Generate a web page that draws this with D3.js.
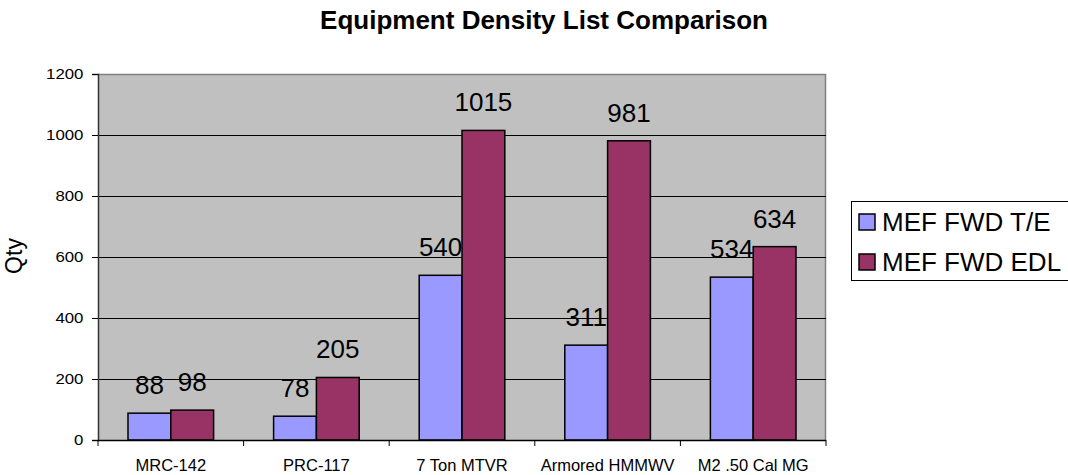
<!DOCTYPE html>
<html><head><meta charset="utf-8">
<script src="https://cdn.jsdelivr.net/npm/d3@7"></script>
<style>body{margin:0;background:#fff}text{font-family:Arial,"Liberation Sans",sans-serif}</style>
</head><body><svg id="c" width="1068" height="475"></svg>
<script>
const categories = ["MRC-142","PRC-117","7 Ton MTVR","Armored HMMWV","M2 .50 Cal MG"];
const seriesNames = ["MEF FWD T/E","MEF FWD EDL"];
const teValues = [88,78,540,311,534];
const edlValues = [98,205,1015,981,634];
const yTicks = [0,200,400,600,800,1000,1200];
const colors = ["#9999FF","#993366"];

const svg = d3.select("#c");
const L=98, R=826, T=74, B=440;
const x = d3.scaleBand().domain(categories).range([L,R]).padding(0);
const bw = x.bandwidth();
const xs = d3.scaleBand().domain(seriesNames).range([bw*0.206, bw*0.794]).padding(0);
const y = d3.scaleLinear().domain([0,1200]).range([B,T]);

svg.append("rect").attr("x",L).attr("y",T).attr("width",R-L).attr("height",B-T).attr("fill","#C0C0C0");
svg.append("path").attr("d",`M${L},${T+0.5}H${R-0.5}V${B}`).attr("fill","none").attr("stroke","#808080").attr("stroke-width",1.5);

// gridlines
svg.append("g").selectAll("line").data(yTicks.filter(v=>v>0 && v<1200)).join("line")
  .attr("x1",L).attr("x2",R).attr("y1",d=>Math.round(y(d))+0.5).attr("y2",d=>Math.round(y(d))+0.5)
  .attr("stroke","#000").attr("stroke-width",1);

// y axis
const ya = svg.append("g").attr("transform",`translate(${L},0)`)
  .call(d3.axisLeft(y).tickValues(yTicks).tickSize(6).tickPadding(7).tickFormat(d3.format("d")));
ya.select(".domain").attr("stroke","#333").attr("stroke-width",1.5);
ya.selectAll("line").attr("stroke","#000");
ya.selectAll("text").attr("font-size",15).attr("fill","#000").attr("transform","scale(1.12,1)")
  .attr("font-family","Arial,'Liberation Sans',sans-serif");

// bars
const data = categories.map((c,i)=>({c, vals:[teValues[i],edlValues[i]]}));
const g = svg.append("g");
data.forEach(d=>{
  d.vals.forEach((v,j)=>{
    const bx = x(d.c)+xs(seriesNames[j]);
    g.append("rect").attr("x",bx).attr("y",y(v)).attr("width",xs.bandwidth()).attr("height",B-y(v))
      .attr("fill",colors[j]).attr("stroke","#000").attr("stroke-width",1.5);
    g.append("text").attr("x",bx+xs.bandwidth()/2).attr("y",y(v)-19).attr("text-anchor","middle")
      .attr("font-size",26).attr("fill","#000").text(v);
  });
});

// x axis
const xa = svg.append("g").attr("transform",`translate(0,${B})`);
xa.append("line").attr("x1",L).attr("x2",R).attr("y1",0.5).attr("y2",0.5).attr("stroke","#000").attr("stroke-width",1.5);
const bounds = categories.map(c=>x(c)).concat([R]);
xa.selectAll("line.t").data(bounds).join("line").attr("class","t")
  .attr("x1",d=>d).attr("x2",d=>d).attr("y1",0).attr("y2",6).attr("stroke","#000");
xa.selectAll("text").data(categories).join("text")
  .attr("x",d=>x(d)+bw/2).attr("y",31).attr("text-anchor","middle").attr("font-size",16.5).attr("fill","#000").text(d=>d);

// title
svg.append("text").attr("x",544).attr("y",29).attr("text-anchor","middle").attr("font-size",26).attr("font-weight","bold").text("Equipment Density List Comparison");
// y title
svg.append("text").attr("transform","translate(22,256) rotate(-90)").attr("text-anchor","middle").attr("font-size",23).text("Qty");

// legend
const lg = svg.append("g");
lg.append("rect").attr("x",851.5).attr("y",201.5).attr("width",230).attr("height",79).attr("fill","#fff").attr("stroke","#000").attr("stroke-width",1);
seriesNames.forEach((s,i)=>{
  const cy = 222 + i*40;
  lg.append("rect").attr("x",859).attr("y",cy-8).attr("width",16).attr("height",16).attr("fill",colors[i]).attr("stroke","#000").attr("stroke-width",1.5);
  lg.append("text").attr("x",882).attr("y",cy+9).attr("font-size",26).attr("fill","#000").text(s);
});
</script></body></html>
